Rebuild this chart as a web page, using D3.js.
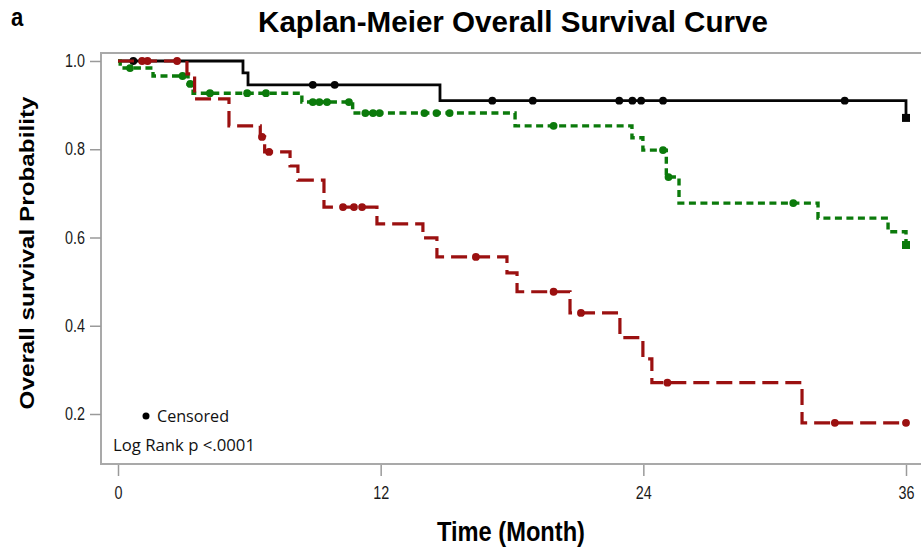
<!DOCTYPE html>
<html><head><meta charset="utf-8">
<script src="https://cdn.jsdelivr.net/npm/d3@7"></script>
<style>
body{margin:0;background:#fff}
svg{display:block}
</style>
</head><body>
<svg id="chart" width="921" height="549"></svg>
<script>
// Kaplan-Meier estimates per group: event times (months) and survival after each event
const blackTimes = [0, 5.71, 5.94, 14.71, 36];
const blackSurv  = [1, 0.973, 0.946, 0.910, 0.871];
const blackCensored = [0.7, 8.9, 9.9, 17.1, 18.95, 22.9, 23.5, 23.9, 24.9, 33.2];

const greenTimes = [0, 0.1, 1.6, 3.2, 3.43, 8.4, 10.72, 18.14, 23.48, 23.98, 25.05, 25.63, 31.98, 35.18, 36];
const greenSurv  = [1, 0.984, 0.966, 0.948, 0.927, 0.907, 0.882, 0.853, 0.826, 0.798, 0.737, 0.678, 0.644, 0.613, 0.583];
const greenCensored = [0.55, 2.95, 3.3, 4.2, 5.9, 6.76, 8.9, 9.2, 9.55, 10.55, 11.3, 11.65, 11.95, 14.0, 14.55, 15.15, 19.9, 24.9, 25.15, 30.85];

const redTimes = [0, 3.15, 3.5, 5.07, 6.5, 6.7, 7.86, 8.22, 9.41, 11.83, 13.93, 14.57, 17.77, 18.23, 20.65, 22.93, 23.98, 24.39, 31.25];
const redSurv  = [1, 0.971, 0.914, 0.853, 0.828, 0.794, 0.762, 0.730, 0.669, 0.631, 0.599, 0.556, 0.520, 0.477, 0.429, 0.373, 0.325, 0.271, 0.180];
const redCensored = [1.1, 1.35, 2.7, 6.58, 6.9, 10.28, 10.78, 11.15, 16.35, 19.9, 21.15, 25.1, 32.75, 36];

const followUpEnd = 36;
const xTicks = [0, 12, 24, 36];
const yTicks = [0.2, 0.4, 0.6, 0.8, 1.0];

const groups = [
  {times: blackTimes, surv: blackSurv, censored: blackCensored, color: "#050505", dash: null, width: 2.8, endSquare: true},
  {times: greenTimes, surv: greenSurv, censored: greenCensored, color: "#0b7a0b", dash: "7,4.5", width: 3.4, endSquare: true},
  {times: redTimes, surv: redSurv, censored: redCensored, color: "#9b1010", dash: "16,7", width: 3.2, endSquare: false}
];

const sans = "'Liberation Sans',Arial,sans-serif";
const svg = d3.select("#chart");

// Condense a text element horizontally to the given fraction of its natural width
function condense(sel, k) {
  sel.each(function () {
    const w = this.getComputedTextLength();
    d3.select(this).attr("textLength", w * k).attr("lengthAdjust", "spacingAndGlyphs");
  });
}

const frame = {left: 101, top: 53, bottom: 464, right: 921};
const x = d3.scaleLinear().domain([0, 36]).range([118, 906]);
const y = d3.scaleLinear().domain([0.0867, 1.0181]).range([frame.bottom, frame.top]);

// Title and panel letter
svg.append("text").attr("x", 11).attr("y", 26)
  .attr("font-family", sans).attr("font-weight", "bold").attr("font-size", 26)
  .text("a")
  .call(condense, 0.85);
svg.append("text").attr("x", 258).attr("y", 32)
  .attr("font-family", sans).attr("font-weight", "bold").attr("font-size", 30)
  .attr("textLength", 510).attr("lengthAdjust", "spacingAndGlyphs")
  .text("Kaplan-Meier Overall Survival Curve");

// Plot frame (open on the right)
svg.append("path")
  .attr("d", `M${frame.right},${frame.top}H${frame.left}V${frame.bottom}H${frame.right}`)
  .attr("fill", "none").attr("stroke", "#a9a9a9").attr("stroke-width", 2);

// Axes
const yAxis = svg.append("g").attr("transform", `translate(${frame.left},0)`)
  .call(d3.axisLeft(y).tickValues(yTicks).tickFormat(d3.format(".1f")).tickSize(11).tickPadding(5));
const xAxis = svg.append("g").attr("transform", `translate(0,${frame.bottom + 1})`)
  .call(d3.axisBottom(x).tickValues(xTicks).tickSize(11).tickPadding(11));
[yAxis, xAxis].forEach(g => {
  g.select(".domain").remove();
  g.selectAll(".tick line").attr("stroke", "#9a9a9a").attr("stroke-width", 1.5);
  g.selectAll(".tick text").attr("fill", "#1a1a1a").attr("font-family", sans).attr("font-size", 17.5)
    .call(condense, 0.82);
});

// Axis titles
svg.append("text").attr("x", 511).attr("y", 541).attr("text-anchor", "middle")
  .attr("font-family", sans).attr("font-weight", "bold").attr("font-size", 27)
  .attr("textLength", 148).attr("lengthAdjust", "spacingAndGlyphs")
  .text("Time (Month)");
svg.append("text").attr("transform", "translate(34,253) rotate(-90)").attr("text-anchor", "middle")
  .attr("font-family", sans).attr("font-weight", "bold").attr("font-size", 21)
  .attr("textLength", 313).attr("lengthAdjust", "spacingAndGlyphs")
  .text("Overall survival Probability");

// Survival curves
const stepLine = d3.line().x(d => x(d[0])).y(d => y(d[1])).curve(d3.curveStepAfter);
const survAt = (g, t) => g.surv[d3.bisectRight(g.times, t) - 1];

groups.forEach(g => {
  const pts = g.times.map((t, i) => [t, g.surv[i]]);
  if (g.times[g.times.length - 1] < followUpEnd) pts.push([followUpEnd, g.surv[g.surv.length - 1]]);
  svg.append("path").datum(pts)
    .attr("d", stepLine)
    .attr("fill", "none").attr("stroke", g.color).attr("stroke-width", g.width)
    .attr("stroke-dasharray", g.dash).attr("stroke-linejoin", "miter");

  svg.append("g").selectAll("circle").data(g.censored).join("circle")
    .attr("cx", t => x(t)).attr("cy", t => y(survAt(g, t)))
    .attr("r", 3.9).attr("fill", g.color);

  if (g.endSquare) {
    const last = pts[pts.length - 1];
    svg.append("rect")
      .attr("x", x(last[0]) - 4).attr("y", y(last[1]) - 4)
      .attr("width", 8).attr("height", 8).attr("fill", g.color);
  }
});

// Legend and test statistic
svg.append("circle").attr("cx", 146).attr("cy", 416).attr("r", 3.5).attr("fill", "#000");
svg.append("text").attr("x", 157).attr("y", 422)
  .attr("font-family", "'Open Sans',sans-serif").attr("font-size", 16).attr("fill", "#111")
  .attr("textLength", 72).attr("lengthAdjust", "spacingAndGlyphs")
  .text("Censored");
svg.append("text").attr("x", 113).attr("y", 451)
  .attr("font-family", "'Open Sans',sans-serif").attr("font-size", 16).attr("fill", "#111")
  .attr("textLength", 142).attr("lengthAdjust", "spacingAndGlyphs")
  .text("Log Rank p <.0001");
</script>
</body></html>
